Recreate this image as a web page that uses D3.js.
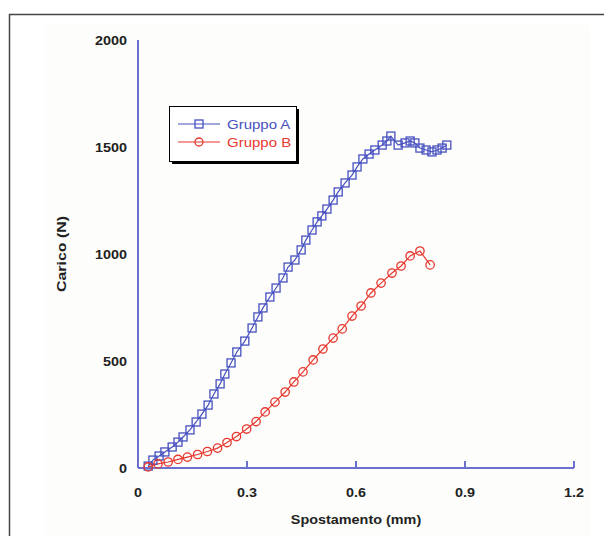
<!DOCTYPE html>
<html>
<head>
<meta charset="utf-8">
<script src="https://cdn.jsdelivr.net/npm/d3@7"></script>
<style>
  body { margin: 0; background: #fff; }
  svg { display: block; font-family: "Liberation Sans", Arial, sans-serif; }
</style>
</head>
<body>
<div id="vis"></div>
<script>

// displacement (mm) and load (N)
var gruppoA_x = [0.028, 0.041, 0.058, 0.074, 0.094, 0.110, 0.124, 0.143, 0.160, 0.176,
  0.193, 0.209, 0.226, 0.239, 0.256, 0.272, 0.294, 0.314, 0.330, 0.344,
  0.363, 0.380, 0.399, 0.413, 0.432, 0.449, 0.462, 0.479, 0.493, 0.506,
  0.520, 0.537, 0.551, 0.570, 0.589, 0.603, 0.619, 0.636, 0.652, 0.672,
  0.685, 0.696, 0.716, 0.735, 0.749, 0.762, 0.776, 0.793, 0.809, 0.823,
  0.837, 0.850];
var gruppoA_y = [9, 37, 56, 75, 98, 121, 145, 178, 215, 252,
  294, 346, 393, 439, 491, 542, 593, 654, 706, 748,
  799, 841, 888, 939, 972, 1019, 1065, 1112, 1150, 1178,
  1210, 1252, 1290, 1332, 1369, 1407, 1444, 1467, 1486, 1509,
  1528, 1551, 1509, 1519, 1528, 1519, 1495, 1486, 1477, 1486,
  1495, 1509];

var gruppoB_x = [0.028, 0.055, 0.083, 0.110, 0.136, 0.164, 0.191, 0.219, 0.245, 0.271,
  0.299, 0.325, 0.350, 0.377, 0.405, 0.429, 0.454, 0.482, 0.509, 0.537,
  0.562, 0.589, 0.614, 0.641, 0.669, 0.699, 0.724, 0.749, 0.776, 0.804];
var gruppoB_y = [5, 19, 28, 40, 51, 63, 77, 93, 119, 147,
  182, 217, 262, 308, 355, 402, 449, 505, 556, 607,
  650, 710, 757, 818, 864, 911, 944, 991, 1014, 949];

var xTicks = [0, 0.3, 0.6, 0.9, 1.2];
var yTicks = [0, 500, 1000, 1500, 2000];
var seriesNames = ['Gruppo A', 'Gruppo B'];

var width = 604, height = 536;
var blue = '#4650c0', red = '#e8372e', axisColor = '#6b70cf';
var stretch = 1.2; // the scanned figure is a bit wide, text included

var svg = d3.select('#vis').append('svg')
  .attr('width', width)
  .attr('height', height);

// frame round the figure
svg.append('rect').attr('x', 0).attr('y', 0).attr('width', width).attr('height', height).attr('fill', '#fff');
svg.append('rect').attr('x', 45).attr('y', 25).attr('width', 545).attr('height', 511).attr('fill', '#fdfdfb');
svg.append('path')
  .attr('d', 'M9.5,536 V14.5 H604')
  .attr('fill', 'none')
  .attr('stroke', '#444')
  .attr('stroke-width', 1.5);

var x = d3.scaleLinear().domain([0, 1.2]).range([138, 574]);
var y = d3.scaleLinear().domain([0, 2000]).range([468, 40]);

function wideText(px, py, anchor) {
  return svg.append('g')
    .attr('transform', 'translate(' + px + ',' + py + ') scale(' + stretch + ',1)')
    .append('text')
    .attr('text-anchor', anchor);
}

// axes
svg.append('line')
  .attr('x1', x(0)).attr('x2', x(0)).attr('y1', y(2000)).attr('y2', y(0))
  .attr('stroke', axisColor).attr('stroke-width', 2);
svg.append('line')
  .attr('x1', x(0)).attr('x2', x(1.2)).attr('y1', y(0)).attr('y2', y(0))
  .attr('stroke', axisColor).attr('stroke-width', 2);

svg.selectAll('.xtick')
  .data(xTicks.slice(1))
  .enter().append('line')
  .attr('class', 'xtick')
  .attr('x1', function (d) { return x(d); })
  .attr('x2', function (d) { return x(d); })
  .attr('y1', y(0))
  .attr('y2', y(0) - 7)
  .attr('stroke', axisColor).attr('stroke-width', 2);

xTicks.forEach(function (d) {
  wideText(x(d), 497, 'middle')
    .attr('font-size', 12)
    .attr('font-weight', 600)
    .attr('fill', '#222')
    .text(d === 0 ? '0' : d3.format('.1f')(d));
});

yTicks.forEach(function (d) {
  wideText(127, y(d) + 4.5, 'end')
    .attr('font-size', 12)
    .attr('font-weight', 600)
    .attr('fill', '#222')
    .text(d);
});

wideText(356, 524, 'middle')
  .attr('font-size', 12)
  .attr('font-weight', 'bold')
  .attr('fill', '#222')
  .text('Spostamento (mm)');

svg.append('text')
  .attr('transform', 'translate(66,254) rotate(-90)')
  .attr('text-anchor', 'middle')
  .attr('font-size', 13)
  .attr('font-weight', 'bold')
  .attr('fill', '#222')
  .attr('textLength', 76)
  .attr('lengthAdjust', 'spacingAndGlyphs')
  .text('Carico (N)');

// series
var line = d3.line()
  .x(function (d) { return x(d[0]); })
  .y(function (d) { return y(d[1]); });

var dataA = d3.zip(gruppoA_x, gruppoA_y);
var dataB = d3.zip(gruppoB_x, gruppoB_y);

svg.append('path').datum(dataA)
  .attr('d', line).attr('fill', 'none').attr('stroke', blue).attr('stroke-width', 1.2);
svg.append('path').datum(dataB)
  .attr('d', line).attr('fill', 'none').attr('stroke', red).attr('stroke-width', 1.2);

svg.selectAll('.sqA')
  .data(dataA)
  .enter().append('rect')
  .attr('class', 'sqA')
  .attr('x', function (d) { return x(d[0]) - 4; })
  .attr('y', function (d) { return y(d[1]) - 4; })
  .attr('width', 8).attr('height', 8)
  .attr('fill', 'none').attr('stroke', blue).attr('stroke-width', 1.3);

svg.selectAll('.ciB')
  .data(dataB)
  .enter().append('circle')
  .attr('class', 'ciB')
  .attr('cx', function (d) { return x(d[0]); })
  .attr('cy', function (d) { return y(d[1]); })
  .attr('r', 4.2)
  .attr('fill', 'none').attr('stroke', red).attr('stroke-width', 1.3);

// legend
var lg = svg.append('g').attr('transform', 'translate(169,106)');
lg.append('rect').attr('x', 3).attr('y', 3).attr('width', 127).attr('height', 55).attr('fill', '#000');
lg.append('rect').attr('x', 0.5).attr('y', 0.5).attr('width', 127).attr('height', 55)
  .attr('fill', '#fff').attr('stroke', '#000').attr('stroke-width', 1);

var colors = [blue, red];
seriesNames.forEach(function (name, i) {
  var ly = 18 + i * 18;
  lg.append('line').attr('x1', 9).attr('x2', 51).attr('y1', ly).attr('y2', ly)
    .attr('stroke', colors[i]).attr('stroke-width', 1.2);
  if (i === 0) {
    lg.append('rect').attr('x', 26).attr('y', ly - 4).attr('width', 8).attr('height', 8)
      .attr('fill', 'none').attr('stroke', colors[i]).attr('stroke-width', 1.3);
  } else {
    lg.append('circle').attr('cx', 30).attr('cy', ly).attr('r', 4)
      .attr('fill', 'none').attr('stroke', colors[i]).attr('stroke-width', 1.3);
  }
  lg.append('g')
    .attr('transform', 'translate(58,' + (ly + 4.5) + ') scale(' + stretch + ',1)')
    .append('text')
    .attr('font-size', 12.5)
    .attr('fill', colors[i])
    .text(name);
});

</script>
</body>
</html>
